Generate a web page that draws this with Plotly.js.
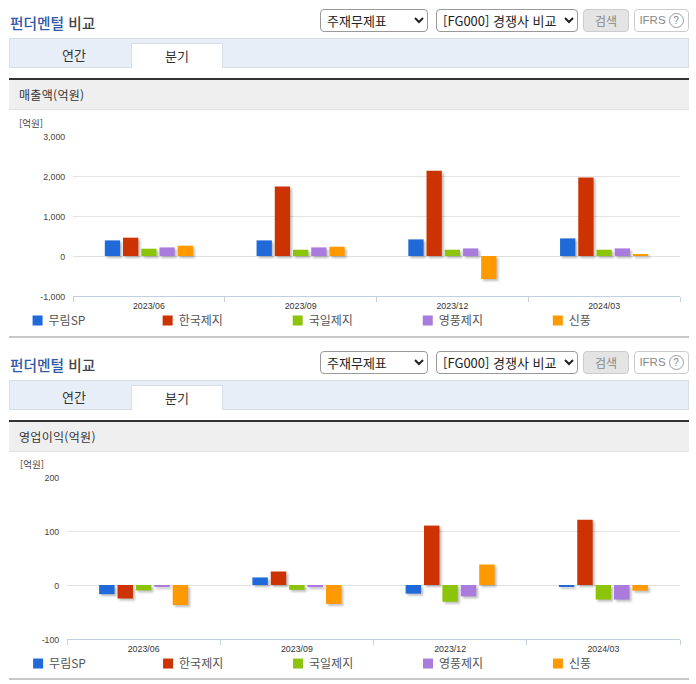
<!DOCTYPE html>
<html lang="ko"><head><meta charset="utf-8">
<script src="https://cdn.plot.ly/plotly-3.0.1.min.js"></script>
<style>
html,body{margin:0;padding:0;background:#fff;}
body{width:696px;height:684px;position:relative;overflow:hidden;font-family:"Noto Sans CJK KR","Noto Sans",sans-serif;color:#333;}
.sec{position:absolute;left:0;width:696px;height:342px;}
.ttl{position:absolute;left:10px;top:13px;font-size:14.7px;font-weight:500;line-height:20px;color:#444;}
.ttl b{color:#2f5aa8;font-weight:500;}
select{position:absolute;top:9px;height:23px;box-sizing:border-box;font:13px "Noto Sans CJK KR";color:#222;background:#fff;border:1px solid #999;border-radius:4px;padding:0 2px;}
.btn{position:absolute;top:9px;height:23px;box-sizing:border-box;border-radius:4px;font-size:12px;line-height:21px;text-align:center;}
.srch{left:583px;width:46px;background:#e4e4e4;border:1px solid #ccc;color:#888;}
.ifrs{left:634px;width:55px;background:#fff;border:1px solid #ccc;color:#888;font-family:"Liberation Sans";font-size:11.5px;}
.q{display:inline-block;width:13px;height:13px;border:1px solid #999;border-radius:50%;font-size:10px;line-height:13px;margin-left:3px;vertical-align:0;}
.tabs{position:absolute;left:9px;top:38px;width:680px;height:30px;box-sizing:border-box;background:#e8eef8;border:1px solid #d8dee8;}
.tab{position:absolute;font-size:13px;line-height:24px;text-align:center;color:#333;}
.t1{left:14px;top:43px;width:120px;}
.t2{left:131px;top:43px;width:92px;height:25px;background:#fff;border:1px solid #d8dee8;border-bottom:none;box-sizing:border-box;}
.rule{position:absolute;left:9px;top:78px;width:680px;height:2px;background:#333;}
.hdr{position:absolute;left:9px;top:80px;width:680px;height:30px;box-sizing:border-box;background:#efefef;border-bottom:1px solid #e2e2e2;padding-left:10px;font-size:12px;line-height:30px;color:#333;letter-spacing:.3px;}
.end{position:absolute;left:9px;top:336px;width:680px;height:2px;background:#c8c8c8;}
.plot{position:absolute;left:0;top:115px;width:696px;height:225px;}
.barlayer .point path{filter:drop-shadow(2px 2px 1px rgba(0,0,0,.25));}
.infolayer g.traces text{transform:translateX(-9px);}
.infolayer g.traces .legendpoints path{d:path("M5,5H-5V-5H5Z");stroke-width:2px !important;stroke-linejoin:round;}
</style></head><body>
<div id="s0" class="sec" style="top:0"></div>
<div id="s1" class="sec" style="top:342px"></div>
<script>
// ---- data ----
const quarters = ["2023/06","2023/09","2023/12","2024/03"];
const companies = ["무림SP","한국제지","국일제지","영풍제지","신풍"];
const colors = ["#1f69d8","#cc3300","#8cc40a","#a87bdc","#ff9900"];

const salesMurim    = [390, 390, 415, 440];
const salesHankuk   = [458, 1740, 2132, 1965];
const salesKukil    = [182, 157, 157, 157];
const salesYoungpoong = [215, 215, 190, 190];
const salesShinpoong  = [258, 232, -575, 40];

const opMurim    = [-17, 14, -16, -3];
const opHankuk   = [-25, 25, 110, 121];
const opKukil    = [-10, -9, -31, -27];
const opYoungpoong = [-2, -4, -21, -27];
const opShinpoong  = [-37, -35, 38, -10.5];

const salesTicks = [-1000, 0, 1000, 2000, 3000];
const salesTickText = ["-1,000","0","1,000","2,000","3,000"];
const opTicks = [-100, 0, 100, 200];
const opTickText = ["-100","0","100","200"];
const unitLabel = "[억원]";

const sections = [
  {id:"s0", label:"매출액(억원)", series:[salesMurim,salesHankuk,salesKukil,salesYoungpoong,salesShinpoong],
   ticks:salesTicks, text:salesTickText, l:73, t:20.5, b:43.7},
  {id:"s1", label:"영업이익(억원)", series:[opMurim,opHankuk,opKukil,opYoungpoong,opShinpoong],
   ticks:opTicks, text:opTickText, l:66.5, t:20.3, b:43.2}
];

sections.forEach((s,i)=>{
  const root=document.getElementById(s.id);
  root.innerHTML=`
  <div class="ttl"><b>펀더멘털</b> 비교</div>
  <select style="left:320px;width:108px"><option>주재무제표</option></select>
  <select style="left:436px;width:142px"><option>[FG000] 경쟁사 비교</option></select>
  <div class="btn srch">검색</div>
  <div class="btn ifrs">IFRS<span class="q">?</span></div>
  <div class="tabs"></div>
  <div class="tab t1">연간</div>
  <div class="tab t2">분기</div>
  <div class="rule"></div>
  <div class="hdr">${s.label}</div>
  <div class="end"></div>
  <div class="plot" id="p${i}"></div>`;
  const W=696,H=225,r=16.3;
  const pw=W-s.l-r, ph=H-s.t-s.b;
  const legendKey=k=>k===0?"legend":"legend"+(k+1);
  const traces=companies.map((c,k)=>({type:"bar",name:c,x:quarters,y:s.series[k],legend:legendKey(k),
    marker:{color:colors[k],line:{width:0,color:colors[k]}},hoverinfo:"x+y+name"}));
  const layout={
    width:W,height:H,paper_bgcolor:"rgba(0,0,0,0)",plot_bgcolor:"rgba(0,0,0,0)",
    margin:{l:s.l,r:r,t:s.t,b:s.b,pad:0,autoexpand:false},
    barmode:"group",bargap:0.4,bargroupgap:0.16,
    font:{family:'"Liberation Sans",Arial,sans-serif',size:9,color:"#444"},
    xaxis:{type:"category",tickson:"boundaries",ticks:"outside",ticklen:5,tickcolor:"#c0d0e0",
      showline:true,linecolor:"#c0d0e0",linewidth:1,showgrid:false,zeroline:false,ticklabelstandoff:1,
      tickfont:{size:8.8,color:"#333"},automargin:false,fixedrange:true},
    yaxis:{range:[s.ticks[0],s.ticks[s.ticks.length-1]],tickmode:"array",tickvals:s.ticks,ticktext:s.text,
      gridcolor:"#e4e4e4",gridwidth:1,zeroline:true,zerolinecolor:"#e0e0e0",zerolinewidth:1,
      showline:false,ticks:"outside",ticklen:5,tickcolor:"rgba(0,0,0,0)",ticklabelshift:1,
      tickfont:{size:8.8,color:"#444"},automargin:false,fixedrange:true},
    showlegend:true,
    annotations:[{text:unitLabel,xref:"paper",yref:"paper",x:(17-s.l)/pw,y:(ph+s.t-7.5)/ph,xanchor:"left",yanchor:"middle",
      showarrow:false,font:{size:9.5,color:"#444",family:'"Noto Sans CJK KR",sans-serif'}}]
  };
  companies.forEach((c,k)=>{
    layout[legendKey(k)]={orientation:"h",x:(17.6+130*k-s.l)/pw,xanchor:"left",y:-10/ph,yanchor:"top",
      itemclick:false,itemdoubleclick:false,bgcolor:"rgba(0,0,0,0)",
      font:{family:'"Noto Sans CJK KR",sans-serif',size:12,color:"#555"}};
  });
  Plotly.newPlot("p"+i,traces,layout,{displayModeBar:false});
});
</script>
</body></html>
